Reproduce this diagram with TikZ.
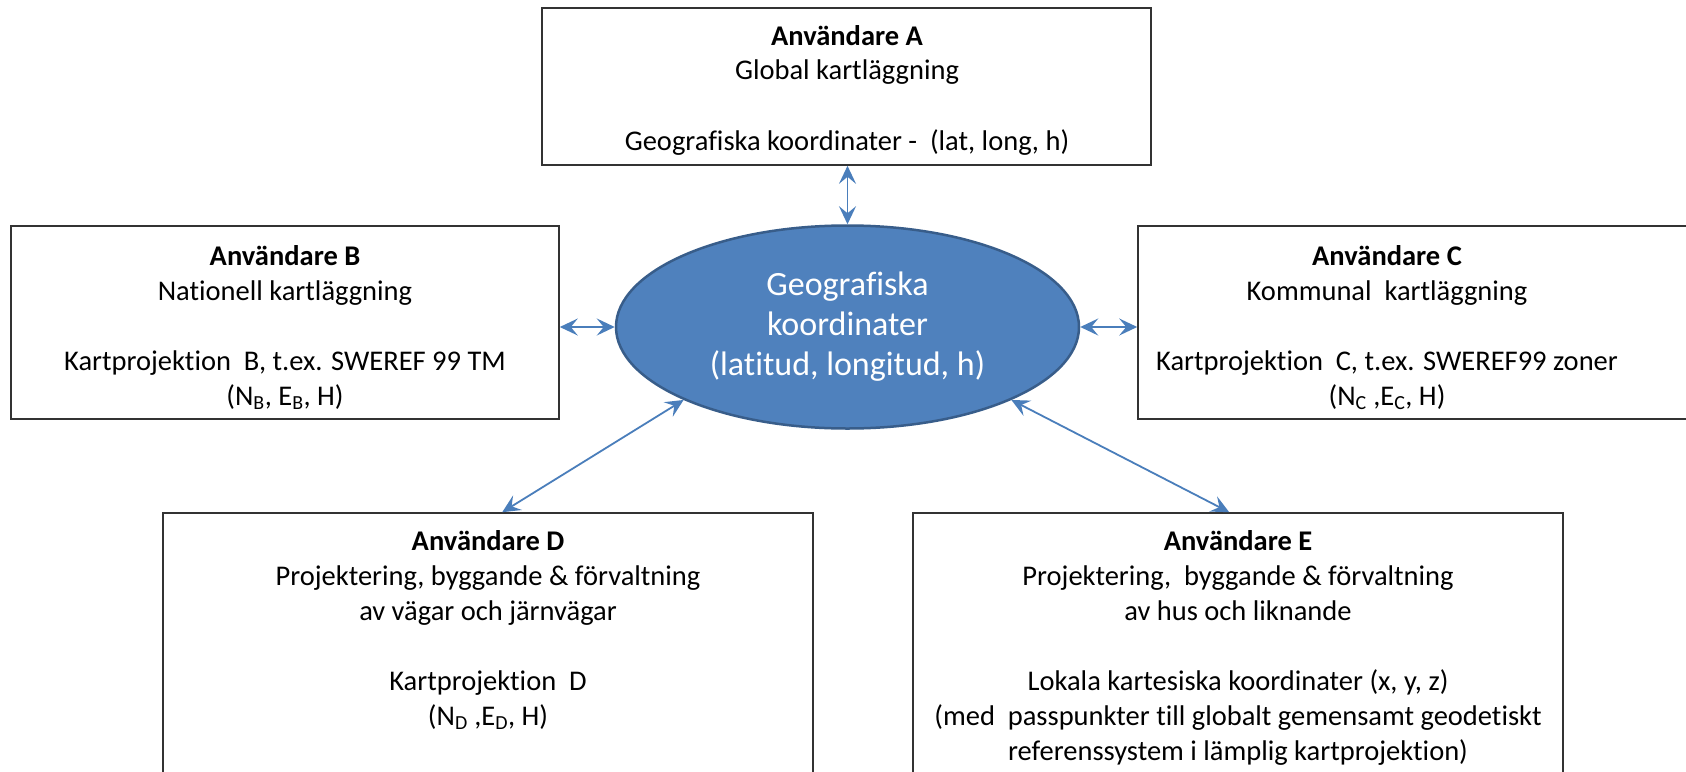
\documentclass[tikz,border=0pt]{standalone}
\usepackage{fontspec}
\setmainfont[Ligatures={NoCommon}]{Carlito}
\usetikzlibrary{shapes.geometric,arrows.meta}
\definecolor{ellfill}{HTML}{4F81BD}
\definecolor{elldraw}{HTML}{385D8A}
\definecolor{arrcol}{HTML}{4A7EBB}
\newcommand{\boxlines}[1]{\begin{tabular}[t]{@{}c@{}}#1\end{tabular}}
\begin{document}
\begin{tikzpicture}[x=1pt,y=-1pt,
  userbox/.style={draw=black!80, line width=1.6pt, inner sep=0pt},
  txt/.style={anchor=base, inner sep=0pt, text=black, font=\fontsize{28.5pt}{35pt}\selectfont},
  arr/.style={draw=arrcol, line width=1.8pt,
    {Stealth[length=18pt,width=17pt,inset=7pt]}-{Stealth[length=18pt,width=17pt,inset=7pt]}}
]
\useasboundingbox (0,0) rectangle (1686,771);
\clip (0,0) rectangle (1686,771);
\fill[white] (0,0) rectangle (1686,771);

% boxes
\node[userbox, minimum width=609pt, minimum height=157pt] (A) at (846.5,86.5) {};
\node[userbox, minimum width=548pt, minimum height=193pt] (B) at (285,322.5) {};
\node[userbox, minimum width=562pt, minimum height=193pt] (C) at (1419,322.5) {};
\node[userbox, minimum width=650pt, minimum height=287pt] (D) at (488,656.5) {};
\node[userbox, minimum width=650pt, minimum height=287pt] (E) at (1238,656.5) {};

% central ellipse
\node[ellipse, fill=ellfill, draw=elldraw, line width=2.5pt, inner sep=0pt,
      minimum width=463pt, minimum height=203pt, text=white,
      font=\fontsize{34pt}{40pt}\selectfont] (G) at (847.5,327)
  {\boxlines{Geografiska\\koordinater\\(latitud, longitud, h)}};

% texts
\node[txt] (At) at (847,45) {\boxlines{\textbf{Användare A}\\Global kartläggning\\ \\Geografiska koordinater -\ \ (lat, long, h)}};
\node[txt] (Bt) at (285,265) {\boxlines{\textbf{Användare B}\\Nationell kartläggning\\ \\Kartprojektion\ \ B, t.ex. SWEREF 99 TM\\(N\textsubscript{B}, E\textsubscript{B}, H)}};
\node[txt] (Ct) at (1387,265) {\boxlines{\textbf{Användare C}\\Kommunal\ \ kartläggning\\ \\Kartprojektion\ \ C, t.ex. SWEREF99 zoner\\(N\textsubscript{C} ,E\textsubscript{C}, H)}};
\node[txt] (Dt) at (488,550) {\boxlines{\textbf{Användare D}\\Projektering, byggande \& förvaltning\\av vägar och järnvägar\\ \\Kartprojektion\ \ D\\(N\textsubscript{D} ,E\textsubscript{D}, H)}};
\node[txt] (Et) at (1238,550) {\boxlines{\textbf{Användare E}\\Projektering,\ \ byggande \& förvaltning\\av hus och liknande\\ \\Lokala kartesiska koordinater (x, y, z)\\(med\ \ passpunkter till globalt gemensamt geodetiskt\\referenssystem i lämplig kartprojektion)}};

% connectors
\draw[arr] (G.north |- A.south) -- (G.north);
\draw[arr] (B.east |- G.west) -- (G.west);
\draw[arr] (G.east) -- (G.east -| C.west);
\draw[arr] (G.204) -- ([xshift=340pt]D.north west);
\draw[arr] (G.336) -- ([xshift=317pt]E.north west);
\end{tikzpicture}
\end{document}
